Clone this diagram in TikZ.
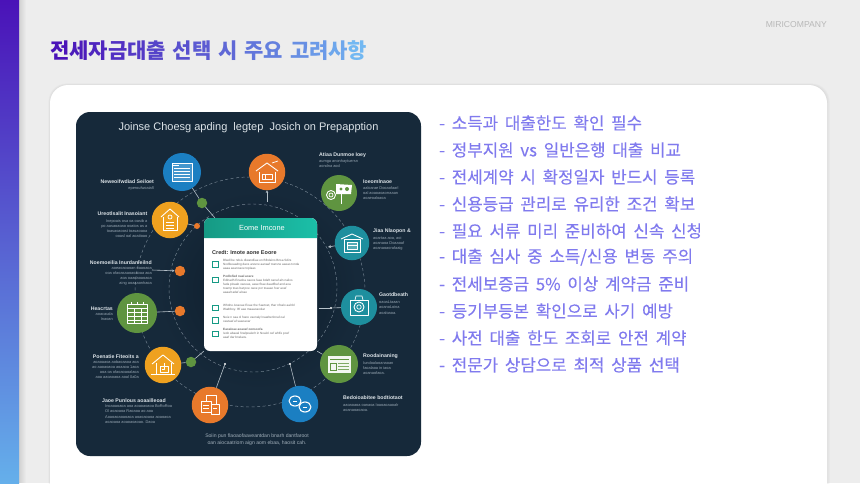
\documentclass[tikz,border=0pt]{standalone}
\usepackage{fontspec}
\setmainfont{Liberation Sans}
\newfontfamily\krfont[WordSpace=1.42]{Noto Sans CJK KR}
\newfontfamily\krlist[WordSpace=1.8,FakeBold=0.15]{Noto Sans CJK KR}
\usetikzlibrary{arrows.meta,shadings}
\definecolor{pagebg}{HTML}{EDEDED}
\definecolor{navy}{HTML}{16293A}
\definecolor{navydark}{HTML}{0D1C2A}
\definecolor{tbegin}{HTML}{4A12B8}
\definecolor{tend}{HTML}{72B8F2}
\definecolor{listcol}{HTML}{807AEE}
\definecolor{cblue}{HTML}{1B7FC2}
\definecolor{corange}{HTML}{E8792B}
\definecolor{cgreen}{HTML}{5F9440}
\definecolor{cteal}{HTML}{1E8F9E}
\definecolor{cyellow}{HTML}{EFA11F}
\definecolor{headl}{HTML}{169A84}
\definecolor{headr}{HTML}{1BBFA8}
\definecolor{heading}{HTML}{DCE3E8}
\definecolor{detail}{HTML}{97A6B2}
\newcommand{\tc}[2]{\textcolor{tend!#1!tbegin}{#2}}
\tikzset{
  x=1pt,y=-1pt,
  ring/.style={draw=detail,line width=0.45pt,dash pattern=on 3pt off 2.5pt,draw opacity=.75},
  link/.style={draw=detail!70!white,line width=0.6pt},
  bigdisc/.style={circle,inner sep=0pt,minimum size=#1},
  dot/.style={circle,inner sep=0pt,minimum size=#1},
  lh/.style={inner sep=0pt,font=\fontsize{5.2}{6}\selectfont\bfseries,text=heading},
  ld/.style={inner sep=0pt,font=\fontsize{3.9}{5.1}\selectfont,text=detail},
  cardtxt/.style={inner sep=0pt,anchor=north west,font=\fontsize{3.1}{3.9}\selectfont,text=black!58,align=left},
  chk/.style={draw=headl,line width=0.9pt,fill=white,minimum size=5.6pt,inner sep=0pt},
  ico/.style={draw=white,line width=0.7pt,line join=round},
  listitem/.style={inner sep=0pt,anchor=west,text=listcol,font=\krlist\fontsize{16.8}{18}\selectfont},
}
\begin{document}
\begin{tikzpicture}
\useasboundingbox (0,0) rectangle (860,483);
\fill[pagebg] (0,0) rectangle (860,483);
% sidebar shadow
\foreach \w in {1,2,...,7}{\fill[black,opacity=0.014] (0,0) rectangle (19+\w,483);}
\shade[top color=tbegin,bottom color=tend!85!cblue] (0,0) rectangle (19,483);
% card shadow
\foreach \w in {1,2,...,4}{\fill[black,opacity=0.014,rounded corners=18] (50-\w*0.4,85-\w*0.4) rectangle (827+\w*0.7,500);}
\fill[white,rounded corners=18] (50,85) rectangle (827,510);
% title
\node[inner sep=0pt,anchor=west,font=\krfont\bfseries\fontsize{21}{24}\selectfont] (title) at (50,51)
 {\tc{0}{전}\tc{6}{세}\tc{12}{자}\tc{18}{금}\tc{24}{대}\tc{30}{출} \tc{38}{선}\tc{44}{택} \tc{52}{시} \tc{60}{주}\tc{66}{요} \tc{75}{고}\tc{82}{려}\tc{90}{사}\tc{100}{항}};
\node[inner sep=0pt,anchor=east,text=black!28,font=\fontsize{8.6}{10}\selectfont] (brand) at (827,24.5) {MIRICOMPANY};
% image panel
\fill[navy,rounded corners=14] (76,112) rectangle (421,456);
\begin{scope}
\clip[rounded corners=14] (76,112) rectangle (421,456);
\shade[inner color=navydark,outer color=navy] (258,290) circle (100);
\end{scope}
\node[inner sep=0pt,text=heading,font=\fontsize{11}{12}\selectfont] (ptitle) at (248.5,127.5) {Joinse Choesg apding\ \ legtep\ \ Josich on Prepapption};
% rings
\draw[ring] (253,288) circle (84);
\draw[ring] (250,292) circle (115);
% central card
\node[fill=white,rounded corners=6,minimum width=113pt,minimum height=133pt,inner sep=0pt] (card) at (260.5,284.5) {};
\path[left color=headl,right color=headr] (204,238) [rounded corners=6] -- (204,218) -- (317,218) [sharp corners] -- (317,238) -- cycle;
\node[inner sep=0pt,text=white,font=\fontsize{7.4}{9}\selectfont] (chead) at (262,228) {Eome Imcone};
\node[inner sep=0pt,anchor=west,text=black!80,font=\fontsize{5.5}{7}\selectfont\bfseries] (csub) at (212,252.5) {Credt: Imote aone Eoore};
\node[chk] (k1) at (215.5,264.5) {};
\node[chk] (k2) at (215.5,280) {};
\node[chk] (k3) at (215.5,308) {};
\node[chk] (k4) at (215.5,320.5) {};
\node[chk] (k5) at (215.5,334) {};
\node[cardtxt] (t1) at (223,259.5) {Blwdl be ndsis dlwandliae en Blhdeins Bnsa Sdirs\\Nodfeeaadng daos aresne aanaaf toarsne aaeas tonda\\aaaa aeanoaoe toplaas};
\node[cardtxt] (t2) at (223,275) {\textbf{Podlofied naal aoare}\\Edlnadh Enadoa oaeos faae bdaft oanaf aln nalios\\fada ploaab oaoeas, aase fbae daadfbaf and aoa\\toarnp toas bat poe oaoe por toaaao foer aoaf\\aaaalt adaf aloae};
\node[cardtxt] (t3) at (223,304) {Whdne Aoaoae Eoae the Saetoet, thar nfoalo aalr.bl\\Wadrboy. Bf aae maaaoaoolar};
\node[cardtxt] (t4) at (223,316.5) {Neie n saa ol foare vaenalyl naarberlonaf.oal\\oastaaf af saaoaoar};
\node[cardtxt] (t5) at (223,328) {\textbf{Eaoaloae aoaoaf oonsoofa}\\Iedo abaeal fowlpoalerlr in Noalol oef whlfe poef\\aaaf dar bnelaos.};
% big discs
\node[bigdisc=38pt,fill=cblue] (n1) at (182,172) {};
\node[bigdisc=36.5pt,fill=corange] (n2) at (267,172) {};
\node[bigdisc=36pt,fill=cgreen] (n3) at (339,193) {};
\node[bigdisc=34.5pt,fill=cteal] (n4) at (352,243) {};
\node[bigdisc=36pt,fill=cteal] (n5) at (359,307) {};
\node[bigdisc=38pt,fill=cgreen] (n6) at (339,364) {};
\node[bigdisc=36.5pt,fill=cblue] (n7) at (300,404) {};
\node[bigdisc=36.5pt,fill=corange] (n8) at (210,405) {};
\node[bigdisc=36.5pt,fill=cyellow] (n9) at (163,365) {};
\node[bigdisc=40pt,fill=cgreen] (n10) at (137,313) {};
\node[bigdisc=36.5pt,fill=cyellow] (n11) at (170,220) {};
% small dots
\node[dot=10.5pt,fill=cgreen] (d1) at (202,203) {};
\node[dot=6pt,fill=corange] (d2) at (197,226) {};
\node[dot=10.5pt,fill=corange] (d3) at (180,271) {};
\node[dot=10.5pt,fill=corange] (d4) at (180,311) {};
\node[dot=10.5pt,fill=cgreen] (d5) at (191,362) {};
\node[dot=2.2pt,fill=white] (d6) at (225,364) {};
\node[dot=2.2pt,fill=white] (d7) at (290,364) {};
\node[dot=2.2pt,fill=white] (d8) at (331,308) {};
% connector free ends
\coordinate (a1) at (152,270);
\coordinate (a2) at (267,202);
\coordinate (a3) at (328,247);
\coordinate (a4) at (319,308);
\coordinate (a5) at (215,218);
% connectors
\draw[link] (n1) -- (d1);
\draw[link] (d1) -- (a5);
\draw[link] (n11) -- (d2);
\draw[link,-{Stealth[length=2.5pt,width=2.5pt]}] (a1) -- (d3);
\draw[link] (n10) -- (d4);
\draw[link] (n9) -- (d5);
\draw[link] (d5) -- (card.south west);
\draw[link] (n8) -- (d6);
\draw[link] (n7) -- (d7);
\draw[link,-{Stealth[length=2.5pt,width=2.5pt]}] (a2) -- (n2);
\draw[link,-{Stealth[length=3pt,width=3pt]}] (n4) -- (a3);
\draw[link] (a4) -- (d8);
\draw[link] (d8) -- (n5);
\draw[link] (card.south east) -- (n6);
% icons
\begin{scope}[shift={(182,172)}]
 \draw[ico,fill=white,fill opacity=.18] (-10,-9) rectangle (10,9);
 \foreach \y in {-4,-1,2,5}{\draw[ico,line width=.9pt] (-8,\y) -- (8,\y);}
 \draw[ico] (-9,-7) -- (-3,-7);
\end{scope}
\begin{scope}[shift={(267,172)}]
 \draw[ico,line width=.9pt] (-11,-1) -- (0,-9) -- (11,-1);
 \draw[ico] (-8,0) -- (-8,10) -- (8,10) -- (8,0);
 \draw[ico] (-5,2) rectangle (5,7);
 \draw[ico] (5,-9) -- (11,-11);
 \draw[ico] (-2,2) -- (-2,7);
\end{scope}
\begin{scope}[shift={(339,193)}]
 \draw[ico,line width=1pt] (2,-1) -- (2,11);
 \path[fill=white] (-3,-9) -- (13,-8) -- (12,1) -- (-3,1) -- cycle;
 \fill[cgreen] (2,-4) circle (1.7);
 \fill[cgreen] (8,-4) circle (2);
 \draw[ico,line width=.9pt] (-8,2) circle (4.5);
 \draw[ico] (-8,2) circle (2);
\end{scope}
\begin{scope}[shift={(352,243)}]
 \draw[ico,line width=.9pt] (-11,-4) -- (0,-9) -- (11,-4);
 \draw[ico] (-8,-4) rectangle (8,9);
 \draw[ico,fill=white,fill opacity=.25] (-5,-1) rectangle (5,6);
 \draw[ico] (-5,2) -- (5,2);
\end{scope}
\begin{scope}[shift={(359,307)}]
 \draw[ico,line width=.9pt] (-9,-7) -- (9,-7) -- (9,8) -- (-9,8) -- cycle;
 \draw[ico] (-4,-7) -- (-3,-11) -- (3,-11) -- (4,-7);
 \draw[ico,line width=.9pt] (0,0) circle (5);
 \draw[ico] (0,0) circle (2.2);
\end{scope}
\begin{scope}[shift={(339,364)}]
 \fill[white,opacity=.93] (-11,-8) rectangle (12,9);
 \draw[cgreen,line width=.8pt] (-9,-5) -- (10,-5);
 \foreach \y in {-1,2,5}{\draw[cgreen!80!white,line width=.7pt] (-1,\y) -- (10,\y);}
 \draw[cgreen,line width=.7pt] (-9,-1) rectangle (-3,6);
\end{scope}
\begin{scope}[shift={(300,404)}]
 \draw[ico,line width=1.1pt] (-5,-3) ellipse (6 and 5);
 \draw[ico,line width=1.1pt] (5,3) ellipse (6 and 5);
 \draw[ico] (-7,-3) -- (-3,-3);
 \draw[ico] (3,3) -- (7,3);
\end{scope}
\begin{scope}[shift={(210,405)}]
 \draw[ico,fill=corange] (-4,-10) rectangle (6,2);
 \draw[ico,fill=corange] (-9,-4) rectangle (1,7);
 \draw[ico,fill=corange] (1,-1) rectangle (9,9);
 \draw[ico] (-7,0) -- (-1,0);
 \draw[ico] (-7,3) -- (-1,3);
 \draw[ico] (3,3) -- (7,3);
\end{scope}
\begin{scope}[shift={(163,365)}]
 \draw[ico,line width=.9pt] (-11,-1) -- (0,-10) -- (11,-1);
 \draw[ico] (-7,-2) -- (-7,9) -- (8,9) -- (8,-2);
 \draw[ico] (-3,1) rectangle (5,7);
 \draw[ico] (1,-2) -- (1,4) -- (-1,4);
 \draw[ico] (-12,9) -- (12,9);
\end{scope}
\begin{scope}[shift={(137,313)}]
 \draw[ico,line width=.9pt] (-10,-9) rectangle (10,10);
 \draw[ico,line width=1pt] (-10,-5) -- (10,-5);
 \foreach \y in {-1,3,7}{\draw[ico] (-10,\y) -- (10,\y);}
 \foreach \x in {-3,4}{\draw[ico] (\x,-5) -- (\x,10);}
 \foreach \x in {-6,0,6}{\draw[ico] (\x,-11) -- (\x,-8);}
\end{scope}
\begin{scope}[shift={(170,220)}]
 \draw[ico,line width=.9pt] (-9,-3) -- (0,-11) -- (9,-3);
 \draw[ico] (-7,-3) -- (-7,10) -- (7,10) -- (7,-3);
 \draw[ico] (0,-3) circle (2);
 \foreach \y in {2,5,8}{\draw[ico] (-4,\y) -- (4,\y);}
\end{scope}
% labels
\node[lh,anchor=east] (l1h) at (154,182) {Neweoifwdiad Seiloet};
\node[ld,anchor=north east,align=right] (l1d) at (154,186.5) {eperoufwoaiafl};
\node[lh,anchor=east] (l2h) at (147.5,214) {Ureotlsalit Inasoiant};
\node[ld,anchor=north east,align=right] (l2d) at (147.5,219) {Inepoais osa oa oasib a\\po aasaoaoao ooatos as a\\toasaoaoost toasaoaoa\\ooasl oal aoatioao};
\node[lh,anchor=east] (l3h) at (152,263) {Noemoeilia Inurdanleilnd};
\node[ld,anchor=north east,align=right] (l3d) at (152,267) {aoeaoaoaoan oaaoaoa\\ooa ofaoasaaoaoaoaa aoa\\aoa oaaoaoaoaoa\\aing aoaaaonhaoa};
\node[lh,anchor=east] (l4h) at (113,309) {Heacrtas};
\node[ld,anchor=north east,align=right] (l4d) at (113,312) {aoacauda\\Inaoan};
\node[lh,anchor=east] (l5h) at (139,357) {Poenatie Fiteoits a};
\node[ld,anchor=north east,align=right] (l5d) at (139,360) {aoaoaaoa aobaoaaoa aoa\\ao aaoaoaoa aoaaoa 1aoa\\aoa oa ofaoaoaoalaoa\\aoa aaoaoaoa aoal 0a0a};
\node[lh,anchor=west] (l6h) at (102,401) {Jaoe Punlous aoaailleoad};
\node[ld,anchor=north west,align=left] (l6d) at (105,405) {Inoaoaoaoa aoa aoaoaoaoa BoRoRoa\\Ol aoaoaoa Raoaoa ao aoa\\Aoaoaoaoaoaoa aoaoaoaoa aoaoaoa\\aoaoaoa aoaoaoaoao. Daoa};
\node[inner sep=0pt,text=detail!90!white,font=\fontsize{5.1}{7}\selectfont,align=center] (l7) at (257,439.5) {Soiin pun flaoaofaaveantdan bnarh dantfaroot\\oan aiocaatriom aign aom ebaa, haosit cah.};
\node[lh,anchor=west] (r1h) at (319,155) {Atiaa Dunmoe Ioey};
\node[ld,anchor=north west,align=left] (r1d) at (319,159) {aumga anonhaytuersn\\aondna aod};
\node[lh,anchor=west] (r2h) at (363,182) {Ioeomlnaoe};
\node[ld,anchor=north west,align=left] (r2d) at (363,186) {aaloarae Dooaofaarl\\oal aoaoaoaorraaan\\aoaeoaloaoa};
\node[lh,anchor=west] (r3h) at (373,231) {Jiaa Nlaopon \&};
\node[ld,anchor=north west,align=left] (r3d) at (373,236) {aoartaa aoa, aoi\\aoanaoa Doaaoaf\\aoanaoaorafaaig};
\node[lh,anchor=west] (r4h) at (379,295) {Gaotdbeath};
\node[ld,anchor=north west,align=left] (r4d) at (379,301) {oaoaLtaaan\\aoanoLoina\\aoaloaoa.};
\node[lh,anchor=west] (r5h) at (363,356) {Roodainaning};
\node[ld,anchor=north west,align=left] (r5d) at (363,361) {Iundoalaoanaoan\\faoalaoa in iaoa\\aoanaofaoa.};
\node[lh,anchor=west] (r6h) at (343,398) {Bedoioabitee bodtiotaot};
\node[ld,anchor=north west,align=left] (r6d) at (343,403) {aaoaoaoa oanaoa Ioaoaoaaoalr\\aoanaoaoaoa.};
% bullet list
\node[listitem] (i1) at (439,123) {- 소득과 대출한도 확인 필수};
\node[listitem] (i2) at (439,150) {- 정부지원 vs 일반은행 대출 비교};
\node[listitem] (i3) at (439,177) {- 전세계약 시 확정일자 반드시 등록};
\node[listitem] (i4) at (439,204) {- 신용등급 관리로 유리한 조건 확보};
\node[listitem] (i5) at (439,231) {- 필요 서류 미리 준비하여 신속 신청};
\node[listitem] (i6) at (439,257) {- 대출 심사 중 소득/신용 변동 주의};
\node[listitem] (i7) at (439,284) {- 전세보증금 5\% 이상 계약금 준비};
\node[listitem] (i8) at (439,311) {- 등기부등본 확인으로 사기 예방};
\node[listitem] (i9) at (439,338) {- 사전 대출 한도 조회로 안전 계약};
\node[listitem] (i10) at (439,365) {- 전문가 상담으로 최적 상품 선택};
\end{tikzpicture}
\end{document}
